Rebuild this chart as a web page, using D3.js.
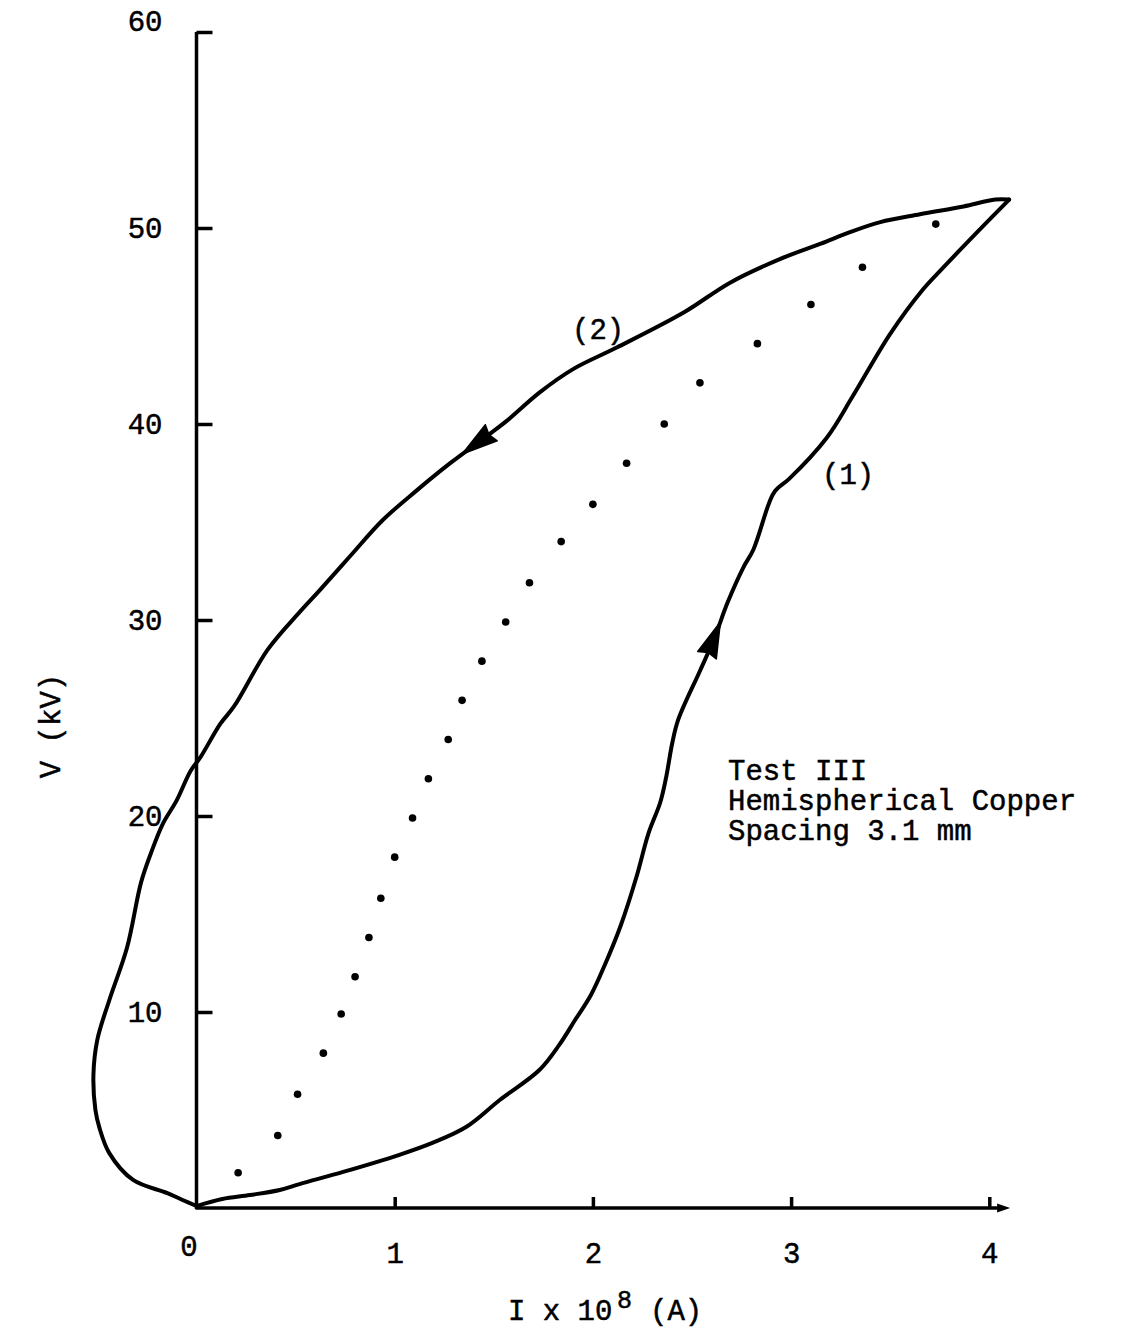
<!DOCTYPE html>
<html>
<head>
<meta charset="utf-8">
<script src="https://cdn.jsdelivr.net/npm/d3@7"></script>
<style>
  html, body { margin: 0; padding: 0; background: #fff; }
  svg { display: block; }
  text { font-family: "Liberation Mono", "Courier New", monospace; fill: #000; stroke: #000; stroke-width: 0.5px; }
</style>
</head>
<body>
<svg id="chart" width="1121" height="1329"></svg>
<script>
// Branch (1): rising voltage. Current I (x 1e-8 A) and voltage V (kV)
const upI = [0.00, 0.13, 0.27, 0.42, 0.52, 0.74, 1.02, 1.19, 1.36, 1.53, 1.73, 1.83, 1.91, 1.99, 2.06, 2.14, 2.22, 2.28, 2.34, 2.37, 2.40, 2.43, 2.54, 2.61, 2.68, 2.76, 2.81, 2.89, 2.92, 2.99, 3.18, 3.31, 3.50, 3.66, 3.76, 3.95, 4.10];
const upV = [0.10, 0.46, 0.66, 0.92, 1.22, 1.84, 2.70, 3.32, 4.13, 5.51, 7.04, 8.32, 9.59, 10.87, 12.4, 14.4, 16.9, 19.1, 20.7, 22.0, 23.7, 24.9, 27.4, 29.0, 30.9, 32.7, 33.6, 36.0, 36.6, 37.2, 39.3, 41.4, 44.6, 46.8, 47.9, 49.9, 51.45];

// Branch (2): falling voltage, back to the origin
const downI = [4.10, 4.03, 3.87, 3.65, 3.45, 3.30, 3.15, 2.94, 2.69, 2.46, 2.12, 1.90, 1.73, 1.57, 1.48, 1.28, 1.11, 0.94, 0.77, 0.62, 0.52, 0.36, 0.19, 0.12, 0.02, -0.03, -0.10, -0.17, -0.23, -0.28, -0.35, -0.44, -0.50, -0.52, -0.51, -0.49, -0.44, -0.32, -0.15, -0.07, 0.00];
const downV = [51.45, 51.45, 51.1, 50.7, 50.3, 49.8, 49.2, 48.4, 47.2, 45.7, 43.9, 42.8, 41.6, 40.2, 39.5, 38.0, 36.6, 35.1, 33.2, 31.5, 30.4, 28.5, 25.6, 24.7, 23.0, 22.3, 20.8, 19.6, 18.1, 16.6, 13.3, 10.6, 8.6, 6.8, 5.0, 4.1, 2.8, 1.43, 0.77, 0.41, 0.10];

// Dotted characteristic
const dotI = [0.21, 0.41, 0.51, 0.64, 0.73, 0.80, 0.87, 0.93, 1.00, 1.09, 1.17, 1.27, 1.34, 1.44, 1.56, 1.68, 1.84, 2.00, 2.17, 2.36, 2.54, 2.83, 3.10, 3.36, 3.73];
const dotV = [1.8, 3.7, 5.8, 7.9, 9.9, 11.8, 13.8, 15.8, 17.9, 19.9, 21.9, 23.9, 25.9, 27.9, 29.9, 31.9, 34.0, 35.9, 38.0, 40.0, 42.1, 44.1, 46.1, 48.0, 50.2];

// Direction arrows: tip position on each branch (I, V)
const arrowI = [2.63, 1.345];
const arrowV = [29.95, 38.4];

// Axis ticks and labels
const xTicks = [0, 1, 2, 3, 4];
const yTicks = [10, 20, 30, 40, 50, 60];
const xAxisEnd = 4.105;
const branchLabels = ["(1)", "(2)"];
const noteLines = ["Test III", "Hemispherical Copper", "Spacing 3.1 mm"];

const svg = d3.select("#chart");
const FONT = "'Liberation Mono', 'Courier New', monospace";

const x = d3.scaleLinear().domain([0, 4]).range([196.5, 989.3]);
const y = d3.scaleLinear().domain([0, 60]).range([1208, 32]);

const zip = (a, b) => a.map((v, i) => [v, b[i]]);

// Axis lines
const axes = svg.append("g").attr("stroke", "#000").attr("stroke-width", 3.5).attr("fill", "none");
axes.append("line")
  .attr("x1", x(0)).attr("x2", x(0))
  .attr("y1", y(0) + 1).attr("y2", y(60));
axes.append("line")
  .attr("x1", x(0) - 1).attr("x2", x(xAxisEnd) - 8)
  .attr("y1", y(0)).attr("y2", y(0));
svg.append("path")
  .attr("d", `M${x(xAxisEnd)},${y(0)} L${x(xAxisEnd) - 13},${y(0) - 4.5} L${x(xAxisEnd) - 13},${y(0) + 4.5} Z`)
  .attr("fill", "#000");

// Y axis: ticks inward, labels to the left
const yAxis = svg.append("g")
  .attr("transform", `translate(${x(0)},0)`)
  .call(d3.axisLeft(y).tickValues(yTicks).tickFormat(d3.format("d"))
    .tickSizeInner(-16).tickSizeOuter(0).tickPadding(34));
yAxis.select(".domain").remove();
yAxis.selectAll(".tick line").attr("stroke-width", 3.5);
yAxis.selectAll(".tick text")
  .attr("font-family", FONT).attr("font-size", 29)
  .attr("dy", d => d === 60 ? "-0.05em" : "0.32em");

// X axis: ticks upward, labels below
const xAxis = svg.append("g")
  .attr("transform", `translate(0,${y(0)})`)
  .call(d3.axisBottom(x).tickValues(xTicks).tickFormat(d3.format("d"))
    .tickSizeInner(-11).tickSizeOuter(0).tickPadding(27));
xAxis.select(".domain").remove();
xAxis.selectAll(".tick line").attr("stroke-width", 3.5).attr("opacity", d => d === 0 ? 0 : 1);
xAxis.selectAll(".tick text")
  .attr("font-family", FONT).attr("font-size", 29)
  .attr("dx", d => d === 0 ? -8 : 0)
  .attr("dy", d => d === 0 ? "0.71em" : "0.95em");

// Axis titles
const xt = svg.append("text").attr("font-size", 29).attr("y", 1320);
xt.append("tspan").attr("x", 508).text("I x 10");
xt.append("tspan").attr("x", 617).attr("dy", -12).attr("font-size", 25).text("8");
xt.append("tspan").attr("x", 650).attr("dy", 12).text("(A)");

svg.append("text")
  .attr("font-size", 29)
  .attr("transform", "translate(52,726) rotate(-90)")
  .attr("text-anchor", "middle")
  .attr("dominant-baseline", "central")
  .text("V (kV)");

// Hysteresis loop branches
const line = d3.line()
  .x(d => x(d[0])).y(d => y(d[1]))
  .curve(d3.curveCatmullRom.alpha(0.5));

const branches = [zip(upI, upV), zip(downI, downV)];
const paths = svg.append("g").selectAll("path")
  .data(branches)
  .join("path")
  .attr("d", line)
  .attr("fill", "none")
  .attr("stroke", "#000")
  .attr("stroke-width", 4)
  .attr("stroke-linejoin", "round")
  .attr("stroke-linecap", "round");

// Arrowheads along each branch, oriented with the path direction
paths.each(function (d, i) {
  const node = this;
  const total = node.getTotalLength();
  const tx = x(arrowI[i]), ty = y(arrowV[i]);
  let best = 0, bestD = Infinity;
  for (let L = 0; L <= total; L += 0.5) {
    const p = node.getPointAtLength(L);
    const dd = (p.x - tx) ** 2 + (p.y - ty) ** 2;
    if (dd < bestD) { bestD = dd; best = L; }
  }
  const tip = node.getPointAtLength(best);
  const base = node.getPointAtLength(Math.max(0, best - 36));
  const dx = tip.x - base.x, dy = tip.y - base.y;
  const len = Math.hypot(dx, dy) || 1;
  const px = -dy / len * 10, py = dx / len * 10;
  const notchX = base.x + dx / len * 3, notchY = base.y + dy / len * 3;
  svg.append("path")
    .attr("d", `M${tip.x},${tip.y} L${base.x + px},${base.y + py} L${notchX},${notchY} L${base.x - px},${base.y - py} Z`)
    .attr("fill", "#000")
    .attr("stroke", "#000")
    .attr("stroke-width", 1.5)
    .attr("stroke-linejoin", "round");
});

// Dotted characteristic
svg.append("g").selectAll("circle")
  .data(zip(dotI, dotV))
  .join("circle")
  .attr("cx", d => x(d[0]))
  .attr("cy", d => y(d[1]))
  .attr("r", 3.8)
  .attr("fill", "#000");

// Branch labels
svg.append("text").attr("font-size", 29).attr("x", 822).attr("y", 484).text(branchLabels[0]);
svg.append("text").attr("font-size", 29).attr("x", 572).attr("y", 339).text(branchLabels[1]);

// Test description
svg.append("g").selectAll("text")
  .data(noteLines)
  .join("text")
  .attr("font-size", 29)
  .attr("x", 728)
  .attr("y", (d, i) => 780 + i * 30)
  .text(d => d);
</script>
</body>
</html>
